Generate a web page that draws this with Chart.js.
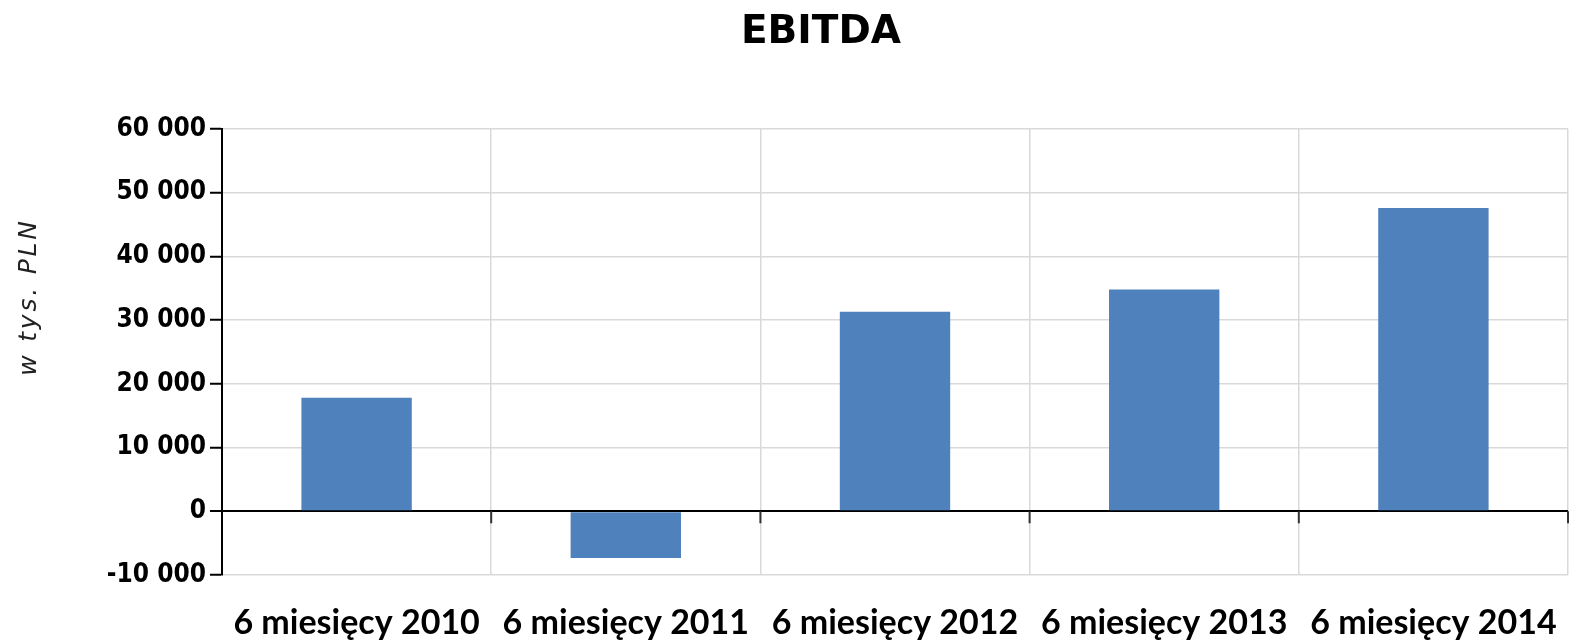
<!DOCTYPE html>
<html>
<head>
<meta charset="utf-8">
<script src="https://cdn.jsdelivr.net/npm/chart.js@4"></script>
<style>
  html, body { margin: 0; padding: 0; background: #fff; }
  #chart { display: block; }
</style>
</head>
<body>
<canvas id="chart" width="1572" height="642"></canvas>
<script>
// values (w tys. PLN)
const periods = ['6 miesięcy 2010', '6 miesięcy 2011', '6 miesięcy 2012', '6 miesięcy 2013', '6 miesięcy 2014'];
const ebitda = [17800, -7350, 31300, 34800, 47600];
const yMin = -10000;
const yMax = 60000;
const yStep = 10000;
const chartTitle = 'EBITDA';
const yAxisTitle = 'w tys. PLN';

const gridGray = '#d9d9d9';

function formatNumber(v) {
    return String(v).replace(/\B(?=(\d{3})+(?!\d))/g, ' ');
}

// small tick marks hanging under the zero line at category boundaries
const zeroTicks = {
    id: 'zeroTicks',
    afterDatasetsDraw(chart) {
        const x = chart.scales.x;
        const y0 = chart.scales.y.getPixelForValue(0);
        const ctx = chart.ctx;
        const step = x.width / periods.length;
        ctx.save();
        ctx.strokeStyle = '#333';
        ctx.lineWidth = 2;
        for (let i = 1; i <= periods.length; i++) {
            const px = x.left + i * step;
            ctx.beginPath();
            ctx.moveTo(px, y0);
            ctx.lineTo(px, y0 + 12);
            ctx.stroke();
        }
        ctx.restore();
    }
};

// title sits a bit right of the canvas centre, y title is letter-spaced
const texts = {
    id: 'texts',
    afterDraw(chart) {
        const ctx = chart.ctx;
        const area = chart.chartArea;
        ctx.save();
        ctx.font = 'bold 39px "DejaVu Sans"';
        ctx.fillStyle = '#000';
        ctx.textAlign = 'center';
        ctx.textBaseline = 'alphabetic';
        ctx.fillText(chartTitle, 821, 43);
        ctx.restore();

        ctx.save();
        ctx.translate(29, (area.top + area.bottom) / 2 - 55);
        ctx.rotate(-Math.PI / 2);
        ctx.font = 'italic 25px "DejaVu Sans"';
        ctx.letterSpacing = '2.8px';
        ctx.fillStyle = '#222';
        ctx.textAlign = 'center';
        ctx.textBaseline = 'middle';
        ctx.fillText(yAxisTitle, 0, 0);
        ctx.restore();
    }
};

new Chart(document.getElementById('chart'), {
    type: 'bar',
    data: {
        labels: periods,
        datasets: [{
            label: chartTitle,
            data: ebitda,
            backgroundColor: '#4f81bd',
            borderWidth: 0,
            categoryPercentage: 1,
            barPercentage: 0.41
        }]
    },
    options: {
        responsive: false,
        animation: false,
        layout: { padding: { left: 0, right: 4, top: 129, bottom: 0 } },
        plugins: {
            legend: { display: false },
            tooltip: { enabled: false },
            title: { display: false }
        },
        scales: {
            x: {
                grid: {
                    color: gridGray,
                    lineWidth: 1.5,
                    drawTicks: false,
                    offset: true
                },
                border: { display: false },
                ticks: {
                    color: '#000',
                    padding: 28,
                    maxRotation: 0,
                    font: { family: 'Lato', size: 34, weight: 'bold' }
                },
                afterFit(s) {
                    s.height = 67;
                    s.paddingLeft = 0;
                    s.paddingRight = 0;
                }
            },
            y: {
                min: yMin,
                max: yMax,
                grid: {
                    color: ctx => ctx.tick && ctx.tick.value === 0 ? '#000' : gridGray,
                    lineWidth: ctx => ctx.tick && ctx.tick.value === 0 ? 2 : 1.5,
                    tickColor: '#000',
                    tickLength: 12,
                    tickWidth: 2
                },
                border: { display: true, color: '#000', width: 2 },
                ticks: {
                    stepSize: yStep,
                    color: '#000',
                    padding: 4,
                    font: { family: '"DejaVu Sans Condensed"', size: 26, weight: 'bold' },
                    callback: v => formatNumber(v)
                },
                afterFit(s) { s.width = 222; }
            }
        }
    },
    plugins: [zeroTicks, texts]
});
</script>
</body>
</html>
